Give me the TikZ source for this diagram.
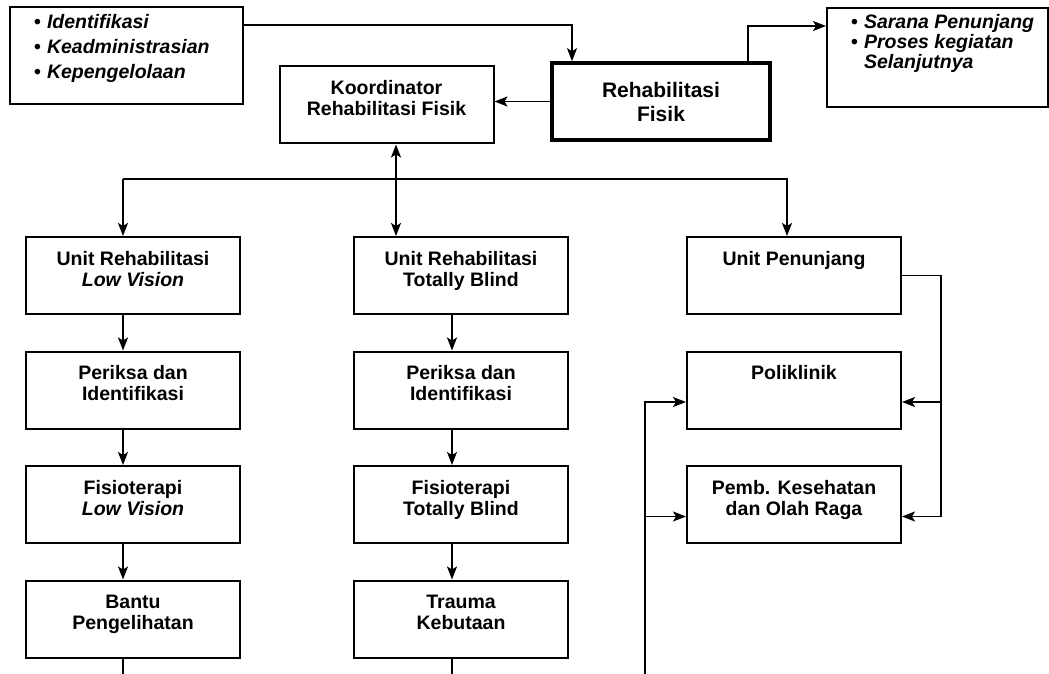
\documentclass[tikz,border=0pt]{standalone}
\usepackage{fontspec}
\setmainfont{Liberation Sans}
\usetikzlibrary{arrows.meta}

\newcommand{\itm}{\makebox[13pt][l]{\upshape\textbullet}}

\tikzset{
  box/.style={draw, line width=2pt, inner sep=0pt,
    font=\bfseries\fontsize{19.5}{21}\selectfont,
    execute at begin node={\begin{minipage}[c][77pt][t]{214pt}\centering\rule{0pt}{28pt}},
    execute at end node={\end{minipage}}},
  note/.style n args={4}{draw, line width=2pt, inner sep=0pt,
    font=\bfseries\itshape\fontsize{19.5}{#4}\selectfont,
    execute at begin node={\begin{minipage}[c][#2][#3]{#1}\raggedright\leftskip=24pt},
    execute at end node={\end{minipage}}},
  main/.style={draw, line width=3.6pt, minimum width=218pt, minimum height=77pt,
    align=center, font=\bfseries\fontsize{21}{24}\selectfont},
  link/.style={line width=1.6pt}
}

\begin{document}
\begin{tikzpicture}[x=1pt, y=-1pt, >={Stealth[length=13pt,width=10pt,inset=3pt]}]
  \useasboundingbox (0,0) rectangle (1049,674);

  % top row
  \node[note={233pt}{97pt}{t}{25pt}] (tugas) at (126.5,55.5) {\rule{0pt}{22pt}\itm Identifikasi\\ \itm Keadministrasian\\ \itm Kepengelolaan};
  \node[note={221pt}{99pt}{t}{20pt}] (hasil) at (937.5,57.5) {\rule{0pt}{21pt}\itm Sarana Penunjang\\ \itm Proses kegiatan\\ \hspace*{13pt}Selanjutnya};
  \node[main] (rehab) at (661,101.5) {Rehabilitasi\\Fisik};
  \node[box] (koord) at (386.5,105) {Koordinator\\Rehabilitasi Fisik};

  % columns
  \node[box] (unitLV) at (133,275.5) {Unit Rehabilitasi\\\textit{Low Vision}};
  \node[box] (periksaLV) at (133,390) {Periksa dan\\Identifikasi};
  \node[box] (fisioLV) at (133,504.5) {Fisioterapi\\\textit{Low Vision}};
  \node[box] (bantuLV) at (133,619) {Bantu\\Pengelihatan};

  \node[box] (unitTB) at (461,275.5) {Unit Rehabilitasi\\Totally Blind};
  \node[box] (periksaTB) at (461,390) {Periksa dan\\Identifikasi};
  \node[box] (fisioTB) at (461,504.5) {Fisioterapi\\Totally Blind};
  \node[box] (traumaTB) at (461,619) {Trauma\\Kebutaan};

  \node[box] (unitPJ) at (794,275.5) {Unit Penunjang};
  \node[box] (poli) at (794,390) {Poliklinik};
  \node[box] (pemb) at (794,504.5) {Pemb. Kesehatan\\dan Olah Raga};

  \coordinate (busL) at (123,179);
  \coordinate (busR) at (787,179);
  \coordinate (colB) at (452,0);
  \coordinate (feedR) at (941,0);
  \coordinate (feedL) at (645,674);

  % arrows
  \draw[link,->] ([yshift=-19pt]tugas.north east) -| ([xshift=-89pt]rehab.north);
  \draw[link,->] (rehab.west) -- (rehab.west -| koord.east);
  \draw[link,->] ([xshift=87pt]rehab.north) |- ([yshift=-19pt]hasil.north west);
  \draw[link,<->] ([xshift=9.5pt]koord.south) -- ([xshift=9.5pt]koord.south |- unitTB.north);
  \draw[link,->] (busL) -- (busL |- unitLV.north);
  \draw[link,->] (busL) -- (busR) -- (busR |- unitPJ.north);

  \foreach \a/\b in {unitLV/periksaLV, periksaLV/fisioLV, fisioLV/bantuLV}
    \draw[link,->] (\a.south -| busL) -- (\b.north -| busL);
  \foreach \a/\b in {unitTB/periksaTB, periksaTB/fisioTB, fisioTB/traumaTB}
    \draw[link,->] (\a.south -| colB) -- (\b.north -| colB);
  \draw[link] (bantuLV.south -| busL) -- ++(0,16);
  \draw[link] (traumaTB.south -| colB) -- ++(0,16);

  \draw[link,->] (unitPJ.east) -| ([yshift=-12pt]pemb.east -| feedR) -- ([yshift=-12pt]pemb.east);
  \draw[link,->] ([yshift=-12pt]poli.east -| feedR) -- ([yshift=-12pt]poli.east);
  \draw[link,->] (feedL) |- ([yshift=-12pt]poli.west);
  \draw[link,->] ([yshift=-12pt]pemb.west -| feedL) -- ([yshift=-12pt]pemb.west);
\end{tikzpicture}
\end{document}
